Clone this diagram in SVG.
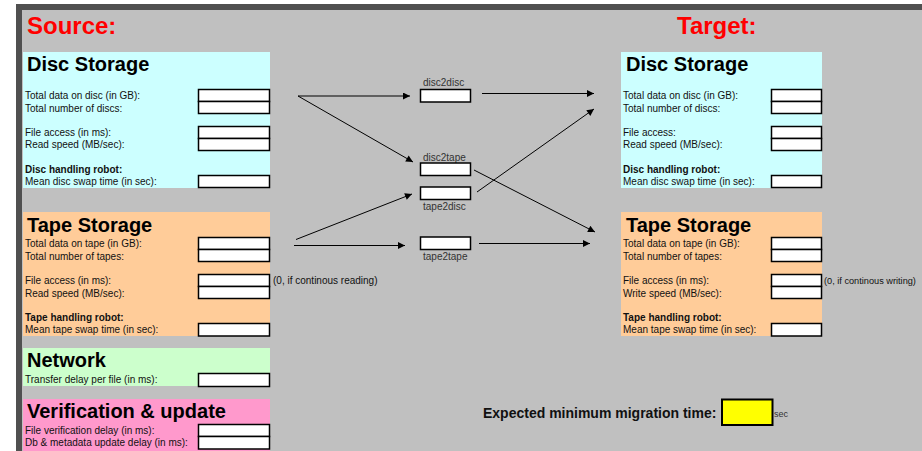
<svg xmlns="http://www.w3.org/2000/svg" width="922" height="451" viewBox="0 0 922 451">
<defs>
<style>
.lbl{font-family:"Liberation Sans",Arial,sans-serif;font-size:10px;fill:#111}
.b{font-weight:bold}
.ttl{font-family:"Liberation Sans",Arial,sans-serif;font-size:20px;font-weight:bold;fill:#000}
.hdr{font-family:"Liberation Sans",Arial,sans-serif;font-size:24px;font-weight:bold;fill:#FF0000}
.inp{fill:#fff;stroke:#000;stroke-width:1.5}
.mid{font-family:"Liberation Sans",Arial,sans-serif;font-size:10px;fill:#333}
.con{stroke:#000;stroke-width:1;fill:none;marker-end:url(#ah)}
</style>
<marker id="ah" viewBox="0 0 10 10" refX="10" refY="5" markerWidth="9" markerHeight="7" markerUnits="userSpaceOnUse" orient="auto">
<path d="M0,0 L10,5 L0,10 z" fill="#000"/>
</marker>
</defs>
<rect x="0" y="0" width="922" height="451" fill="#fff"/>
<rect x="16" y="4" width="906" height="447" fill="#505050"/>
<rect x="22" y="10" width="900" height="441" fill="#C0C0C0"/>

<text class="hdr" x="27" y="34">Source:</text>
<text class="hdr" x="677" y="34">Target:</text>

<g id="src-disc">
<rect x="23" y="52" width="247" height="136" fill="#CCFFFF"/>
<text class="ttl" x="27" y="71">Disc Storage</text>
<text class="lbl" x="25" y="99">Total data on disc (in GB):</text>
<text class="lbl" x="25" y="111.5">Total number of discs:</text>
<text class="lbl" x="25" y="135.5">File access (in ms):</text>
<text class="lbl" x="25" y="148">Read speed (MB/sec):</text>
<text class="lbl b" x="25" y="172.5">Disc handling robot:</text>
<text class="lbl" x="25" y="184.5">Mean disc swap time (in sec):</text>
<rect class="inp" x="198.5" y="89.5" width="71" height="12"/>
<rect class="inp" x="198.5" y="101.5" width="71" height="12"/>
<rect class="inp" x="198.5" y="126.5" width="71" height="12"/>
<rect class="inp" x="198.5" y="138.5" width="71" height="12"/>
<rect class="inp" x="198.5" y="175.5" width="71" height="12"/>
</g>

<g id="src-tape">
<rect x="23" y="212" width="247" height="124" fill="#FFCC99"/>
<text class="ttl" x="27" y="232">Tape Storage</text>
<text class="lbl" x="25" y="247">Total data on tape (in GB):</text>
<text class="lbl" x="25" y="259.5">Total number of tapes:</text>
<text class="lbl" x="25" y="283.5">File access (in ms):</text>
<text class="lbl" x="25" y="296.5">Read speed (MB/sec):</text>
<text class="lbl b" x="25" y="321">Tape handling robot:</text>
<text class="lbl" x="25" y="332.5">Mean tape swap time (in sec):</text>
<rect class="inp" x="198.5" y="237.5" width="71" height="12"/>
<rect class="inp" x="198.5" y="249.5" width="71" height="12"/>
<rect class="inp" x="198.5" y="274.5" width="71" height="12"/>
<rect class="inp" x="198.5" y="286.5" width="71" height="12"/>
<rect class="inp" x="198.5" y="323.5" width="71" height="12.5"/>
<text class="lbl" x="273" y="283.5">(0, if continous reading)</text>
</g>

<g id="network">
<rect x="23" y="348" width="247" height="38" fill="#CCFFCC"/>
<text class="ttl" x="27" y="367">Network</text>
<text class="lbl" x="25" y="383">Transfer delay per file (in ms):</text>
<rect class="inp" x="198.5" y="373.5" width="71" height="13"/>
</g>

<g id="verification">
<rect x="23" y="399" width="247" height="52" fill="#FF99CC"/>
<text class="ttl" x="27" y="417.5">Verification &amp; update</text>
<text class="lbl" x="25" y="433.5">File verification delay (in ms):</text>
<text class="lbl" x="25" y="446">Db &amp; metadata update delay (in ms):</text>
<rect class="inp" x="198.5" y="424.5" width="71" height="12"/>
<rect class="inp" x="198.5" y="436.5" width="71" height="12.5"/>
</g>

<g id="tgt-disc">
<rect x="621" y="52" width="201" height="136" fill="#CCFFFF"/>
<text class="ttl" x="626" y="71">Disc Storage</text>
<text class="lbl" x="623" y="99">Total data on disc (in GB):</text>
<text class="lbl" x="623" y="111.5">Total number of discs:</text>
<text class="lbl" x="623" y="135.5">File access:</text>
<text class="lbl" x="623" y="148">Read speed (MB/sec):</text>
<text class="lbl b" x="623" y="172.5">Disc handling robot:</text>
<text class="lbl" x="623" y="184.5">Mean disc swap time (in sec):</text>
<rect class="inp" x="771.5" y="89.5" width="50" height="12"/>
<rect class="inp" x="771.5" y="101.5" width="50" height="12"/>
<rect class="inp" x="771.5" y="126.5" width="50" height="12"/>
<rect class="inp" x="771.5" y="138.5" width="50" height="12"/>
<rect class="inp" x="771.5" y="175.5" width="50" height="12"/>
</g>

<g id="tgt-tape">
<rect x="621" y="212" width="201" height="124" fill="#FFCC99"/>
<text class="ttl" x="626" y="232">Tape Storage</text>
<text class="lbl" x="623" y="247">Total data on tape (in GB):</text>
<text class="lbl" x="623" y="259.5">Total number of tapes:</text>
<text class="lbl" x="623" y="283.5">File access (in ms):</text>
<text class="lbl" x="623" y="296.5">Write speed (MB/sec):</text>
<text class="lbl b" x="623" y="321">Tape handling robot:</text>
<text class="lbl" x="623" y="332.5">Mean tape swap time (in sec):</text>
<rect class="inp" x="771.5" y="237.5" width="50" height="12"/>
<rect class="inp" x="771.5" y="249.5" width="50" height="12"/>
<rect class="inp" x="771.5" y="274.5" width="50" height="12"/>
<rect class="inp" x="771.5" y="286.5" width="50" height="12"/>
<rect class="inp" x="771.5" y="323.5" width="50" height="12.5"/>
<text class="lbl" x="824" y="283.5" style="font-size:9.2px">(0, if continous writing)</text>
</g>

<g id="disc2disc">
<text class="mid" x="423" y="86">disc2disc</text>
<rect class="inp" x="420.5" y="89.5" width="50" height="12.5"/>
</g>
<g id="disc2tape">
<text class="mid" x="423" y="160.5">disc2tape</text>
<rect class="inp" x="420.5" y="163" width="50" height="12.5"/>
</g>
<g id="tape2disc">
<rect class="inp" x="420.5" y="187" width="50" height="12.5"/>
<text class="mid" x="423" y="209.5">tape2disc</text>
</g>
<g id="tape2tape">
<rect class="inp" x="420.5" y="237" width="50" height="12.5"/>
<text class="mid" x="423" y="259.5">tape2tape</text>
</g>

<g id="connectors">
<line class="con" x1="298" y1="96" x2="410" y2="96"/>
<line class="con" x1="298" y1="96" x2="413" y2="162"/>
<line class="con" x1="482" y1="93.5" x2="594" y2="93.5"/>
<line class="con" x1="474" y1="170" x2="595" y2="232"/>
<line class="con" x1="477" y1="192" x2="594" y2="109"/>
<line class="con" x1="296" y1="239.5" x2="412" y2="194"/>
<line class="con" x1="294" y1="245.5" x2="405" y2="245.5"/>
<line class="con" x1="479" y1="243.5" x2="590" y2="243.5"/>
</g>

<g id="result">
<text x="483" y="417.5" font-family="'Liberation Sans',Arial,sans-serif" font-size="14" font-weight="bold" fill="#111">Expected minimum migration time:</text>
<rect x="722" y="399.5" width="50.5" height="25.5" fill="#FFFF00" stroke="#000" stroke-width="2"/>
<text class="mid" x="774" y="417" style="font-size:9px">sec</text>
</g>
</svg>
